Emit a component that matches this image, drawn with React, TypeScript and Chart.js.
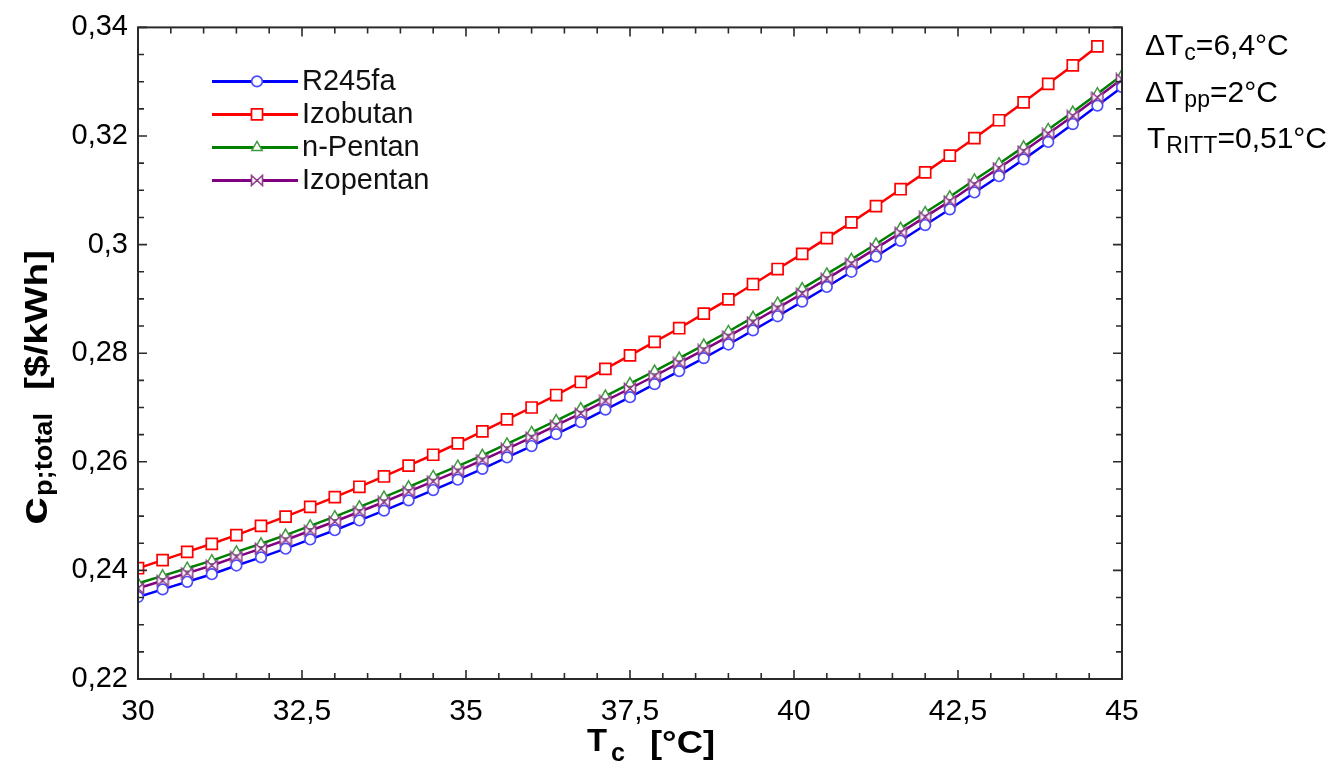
import React, { useEffect, useRef } from 'react';
import { Chart, registerables, PointElement } from 'chart.js';

Chart.register(...registerables);

// ---------- data ----------
const tcValues = [
  30, 30.375, 30.75, 31.125, 31.5, 31.875, 32.25, 32.625, 33, 33.375,
  33.75, 34.125, 34.5, 34.875, 35.25, 35.625, 36, 36.375, 36.75, 37.125,
  37.5, 37.875, 38.25, 38.625, 39, 39.375, 39.75, 40.125, 40.5, 40.875,
  41.25, 41.625, 42, 42.375, 42.75, 43.125, 43.5, 43.875, 44.25, 44.625, 45,
];

const r245faValues = [
  0.2351, 0.2365, 0.2379, 0.2393, 0.2409, 0.2424, 0.2440, 0.2457, 0.2474, 0.2492,
  0.2510, 0.2529, 0.2548, 0.2567, 0.2587, 0.2608, 0.2629, 0.2651, 0.2673, 0.2696,
  0.2719, 0.2743, 0.2767, 0.2791, 0.2816, 0.2842, 0.2868, 0.2895, 0.2922, 0.2950,
  0.2978, 0.3007, 0.3036, 0.3065, 0.3096, 0.3126, 0.3157, 0.3189, 0.3222, 0.3256, 0.3290,
];

const izobutanValues = [
  0.2404, 0.2419, 0.2434, 0.2449, 0.2465, 0.2482, 0.2499, 0.2517, 0.2535, 0.2554,
  0.2573, 0.2593, 0.2613, 0.2634, 0.2656, 0.2678, 0.2700, 0.2723, 0.2747, 0.2771,
  0.2796, 0.2821, 0.2846, 0.2873, 0.2899, 0.2927, 0.2955, 0.2983, 0.3012, 0.3041,
  0.3071, 0.3102, 0.3133, 0.3164, 0.3196, 0.3229, 0.3262, 0.3296, 0.3330, 0.3365,
];

const nPentanValues = [
  0.2376, 0.2390, 0.2404, 0.2418, 0.2434, 0.2449, 0.2465, 0.2482, 0.2499, 0.2517,
  0.2535, 0.2554, 0.2573, 0.2592, 0.2612, 0.2633, 0.2654, 0.2676, 0.2698, 0.2721,
  0.2744, 0.2767, 0.2791, 0.2815, 0.2840, 0.2866, 0.2892, 0.2919, 0.2946, 0.2973,
  0.3001, 0.3030, 0.3059, 0.3088, 0.3119, 0.3149, 0.3180, 0.3212, 0.3244, 0.3278, 0.3312,
];

const izopentanValues = [
  0.2367, 0.2381, 0.2395, 0.2409, 0.2425, 0.2440, 0.2456, 0.2473, 0.2490, 0.2508,
  0.2526, 0.2545, 0.2564, 0.2583, 0.2603, 0.2624, 0.2645, 0.2667, 0.2689, 0.2712,
  0.2735, 0.2758, 0.2782, 0.2806, 0.2831, 0.2857, 0.2883, 0.2910, 0.2937, 0.2965,
  0.2993, 0.3022, 0.3051, 0.3080, 0.3111, 0.3141, 0.3172, 0.3204, 0.3237, 0.3271, 0.3305,
];

const seriesLabels = ['R245fa', 'Izobutan', 'n-Pentan', 'Izopentan'];

const xTickValues = [30, 32.5, 35, 37.5, 40, 42.5, 45];
const xTickLabels = ['30', '32,5', '35', '37,5', '40', '42,5', '45'];
const yTickValues = [0.22, 0.24, 0.26, 0.28, 0.3, 0.32, 0.34];
const yTickLabels = ['0,22', '0,24', '0,26', '0,28', '0,3', '0,32', '0,34'];

const annotationLines = [
  { main: 'ΔT', sub: 'c', rest: '=6,4°C' },
  { main: 'ΔT', sub: 'pp', rest: '=2°C' },
  { main: 'T', sub: 'RITT', rest: '=0,51°C' },
];

const FONT = '"Liberation Sans", Arial, sans-serif';

function toPoints(ys: number[]) {
  return ys.map((y, i) => ({ x: tcValues[i], y }));
}

function makeBowtie(color: string) {
  const c = document.createElement('canvas');
  c.width = 14;
  c.height = 13;
  const g = c.getContext('2d') as CanvasRenderingContext2D;
  g.lineWidth = 1.6;
  g.strokeStyle = color;
  g.fillStyle = '#ffffff';
  g.beginPath();
  g.moveTo(1.5, 1.5);
  g.lineTo(12.5, 11.5);
  g.lineTo(12.5, 1.5);
  g.lineTo(1.5, 11.5);
  g.closePath();
  g.fill();
  g.stroke();
  return c;
}

function textRun(ctx: CanvasRenderingContext2D, text: string, font: string, x: number, y: number, width?: number) {
  ctx.font = font;
  const w = ctx.measureText(text).width;
  if (width) {
    ctx.save();
    ctx.translate(x, y);
    ctx.scale(width / w, 1);
    ctx.fillText(text, 0, 0);
    ctx.restore();
    return x + width;
  }
  ctx.fillText(text, x, y);
  return x + w;
}

const framePlugin = {
  id: 'frame',
  afterDatasetsDraw(chart: any) {
    const { ctx, chartArea: a, scales } = chart;
    const xs = scales.x;
    const ys = scales.y;
    ctx.save();
    ctx.strokeStyle = '#2a2a2a';
    ctx.lineWidth = 1.6;
    ctx.beginPath();
    for (let k = 0; k <= 30; k++) {
      const v = 30 + k * 0.5;
      const px = xs.getPixelForValue(v);
      const len = k % 5 === 0 ? 9 : 6;
      ctx.moveTo(px, a.bottom);
      ctx.lineTo(px, a.bottom - len);
      ctx.moveTo(px, a.top);
      ctx.lineTo(px, a.top + len);
    }
    for (let k = 0; k <= 24; k++) {
      const v = 0.22 + k * 0.005;
      const py = ys.getPixelForValue(v);
      const len = k % 4 === 0 ? 9 : 6;
      ctx.moveTo(a.left, py);
      ctx.lineTo(a.left + len, py);
      ctx.moveTo(a.right, py);
      ctx.lineTo(a.right - len, py);
    }
    ctx.stroke();
    ctx.lineWidth = 2;
    ctx.strokeRect(a.left, a.top, a.right - a.left, a.bottom - a.top);
    ctx.restore();
  },
};

const legendPlugin = {
  id: 'customLegend',
  afterDraw(chart: any) {
    const { ctx, chartArea: a } = chart;
    const x0 = a.left + 74;
    const x1 = a.left + 160;
    const xm = a.left + 119;
    const y0 = a.top + 54;
    const dy = 33;
    chart.data.datasets.forEach((ds: any, i: number) => {
      const y = y0 + i * dy;
      ctx.save();
      ctx.strokeStyle = ds.borderColor;
      ctx.lineWidth = 3;
      ctx.beginPath();
      ctx.moveTo(x0, y);
      ctx.lineTo(x1, y);
      ctx.stroke();
      ctx.restore();
      const meta = chart.getDatasetMeta(i);
      const el = meta.data[0];
      if (el) {
        const p = new PointElement({ x: xm, y, options: el.options } as any);
        p.draw(ctx, a);
      }
      ctx.save();
      ctx.fillStyle = '#111111';
      ctx.textBaseline = 'middle';
      ctx.font = `29px ${FONT}`;
      ctx.fillText(ds.label, x1 + 4, y + 1);
      ctx.restore();
    });
  },
};

const titlesPlugin = {
  id: 'titles',
  afterDraw(chart: any) {
    const { ctx } = chart;
    ctx.save();
    ctx.fillStyle = '#000000';
    ctx.textBaseline = 'alphabetic';

    // x-axis title: T_c  [°C]
    textRun(ctx, 'T', `bold 32px ${FONT}`, 587, 751, 20);
    textRun(ctx, 'c', `bold 25px ${FONT}`, 611, 761, 14);
    textRun(ctx, '[°C]', `bold 32px ${FONT}`, 650, 753, 65);

    // y-axis title: c_p;total  [$/kWh]
    ctx.save();
    ctx.translate(47, 525);
    ctx.rotate(-Math.PI / 2);
    textRun(ctx, 'c', `bold 38px ${FONT}`, 0, 0, 28);
    textRun(ctx, 'p;total', `bold 26px ${FONT}`, 29, 5, 83);
    textRun(ctx, '[$/kWh]', `bold 31px ${FONT}`, 135, 0, 140);
    ctx.restore();

    // right annotations
    const baselines = [55, 102, 148];
    annotationLines.forEach((ln, i) => {
      const y = baselines[i];
      let x = ln.main === 'T' ? 1147 : 1145;
      x = textRun(ctx, ln.main, `30px ${FONT}`, x, y);
      x = textRun(ctx, ln.sub, `23px ${FONT}`, x + 1, y + 5);
      textRun(ctx, ln.rest, `30px ${FONT}`, x, y);
    });
    ctx.restore();
  },
};

export default function App() {
  const canvasRef = useRef<HTMLCanvasElement | null>(null);

  useEffect(() => {
    const canvas = canvasRef.current;
    if (!canvas) return;
    const bowtie = makeBowtie('#8c3d8c');

    const chart = new Chart(canvas, {
      type: 'line',
      data: {
        datasets: [
          {
            label: seriesLabels[0],
            data: toPoints(r245faValues),
            borderColor: '#0000ff',
            borderWidth: 2.5,
            pointStyle: 'circle',
            pointRadius: 5.3,
            pointBorderColor: '#4a4aff',
            pointBackgroundColor: '#ffffff',
            pointBorderWidth: 1.7,
            order: 1,
          },
          {
            label: seriesLabels[1],
            data: toPoints(izobutanValues),
            borderColor: '#ff0000',
            borderWidth: 2.5,
            pointStyle: 'rect',
            pointRadius: 7.8,
            pointBorderColor: '#ff0000',
            pointBackgroundColor: '#ffffff',
            pointBorderWidth: 1.7,
            order: 1,
          },
          {
            label: seriesLabels[2],
            data: toPoints(nPentanValues),
            borderColor: '#008000',
            borderWidth: 2.5,
            pointStyle: 'triangle',
            pointRadius: 6,
            pointBorderColor: '#3f9a3f',
            pointBackgroundColor: '#ffffff',
            pointBorderWidth: 1.5,
            order: 1,
          },
          {
            label: seriesLabels[3],
            data: toPoints(izopentanValues),
            borderColor: '#800080',
            borderWidth: 2.5,
            pointStyle: bowtie as any,
            pointRadius: 6.5,
            pointBorderColor: '#8c3d8c',
            pointBackgroundColor: '#ffffff',
            order: 0,
          },
        ],
      },
      options: {
        responsive: false,
        maintainAspectRatio: false,
        animation: false,
        devicePixelRatio: 1,
        layout: { padding: { left: 0, top: 24, right: 216, bottom: 0 } },
        elements: { line: { tension: 0 } },
        plugins: {
          legend: { display: false },
          tooltip: { enabled: false },
        },
        scales: {
          x: {
            type: 'linear',
            min: 30,
            max: 45,
            afterBuildTicks: (s: any) => {
              s.ticks = xTickValues.map((v) => ({ value: v }));
            },
            afterFit: (s: any) => {
              s.height = 86;
            },
            grid: { display: false, drawTicks: false },
            border: { display: false },
            ticks: {
              autoSkip: false,
              maxRotation: 0,
              padding: 15,
              color: '#000000',
              font: { family: FONT, size: 30 },
              callback: (_v: any, i: number) => xTickLabels[i],
            },
          },
          y: {
            type: 'linear',
            min: 0.22,
            max: 0.34,
            afterBuildTicks: (s: any) => {
              s.ticks = yTickValues.map((v) => ({ value: v }));
            },
            afterFit: (s: any) => {
              s.width = 138;
            },
            grid: { display: false, drawTicks: false },
            border: { display: false },
            ticks: {
              autoSkip: false,
              padding: 10,
              color: '#000000',
              font: { family: FONT, size: 29 },
              callback: (_v: any, i: number) => yTickLabels[i],
            },
          },
        },
      },
      plugins: [framePlugin, legendPlugin, titlesPlugin],
    } as any);

    return () => {
      chart.destroy();
    };
  }, []);

  return (
    <div style={{ position: 'fixed', left: 0, top: 0, width: 1338, height: 765, background: '#ffffff' }}>
      <canvas ref={canvasRef} width={1338} height={765} style={{ width: 1338, height: 765, display: 'block' }} />
    </div>
  );
}
